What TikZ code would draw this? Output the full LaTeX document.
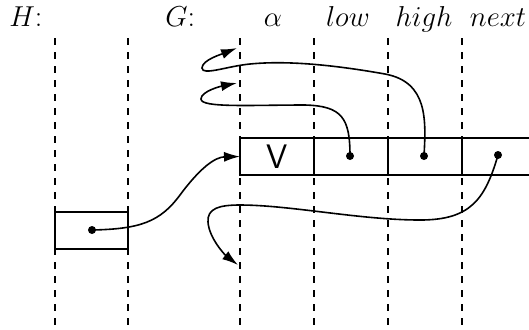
\documentclass[tikz,border=0pt]{standalone}
\usetikzlibrary{arrows.meta}
\begin{document}
\begin{tikzpicture}[x=0.5pt,y=-0.5pt,
  guide/.style={dash pattern=on 3.5pt off 3.5pt, line width=0.7pt},
  cell/.style={draw, line width=0.75pt, minimum width=37pt, minimum height=18.5pt, inner sep=0pt, outer sep=0pt},
  ptr/.style={circle, fill, inner sep=0pt, minimum size=4pt},
  link/.style={line width=0.8pt, -{Latex[length=8pt,width=5pt]}},
  lbl/.style={anchor=base, inner sep=0pt, font=\fontsize{15}{18}\selectfont}]
\useasboundingbox (0,0) rectangle (529,329);

% labels
\node[lbl, anchor=base west] (lh) at (9,26) {$H$:};
\node[lbl, anchor=base west] (lg) at (165,26) {$G$:};
\node[lbl] (la) at (273,26) {$\alpha$};
\node[lbl] (llow) at (348,26) {$low$};
\node[lbl] (lhigh) at (424,26) {$high$};
\node[lbl] (lnext) at (498,26) {$next$};

% dashed guides
\foreach \x in {55,128,240,314,388,462}
  \draw[guide] (\x,38) -- (\x,325);

% G record
\node[cell, fill=white] (ca) at (277,156.5) {\fontsize{17}{17}\selectfont\sffamily V};
\node[cell, fill=white] (cl) at (351,156.5) {};
\node[cell, fill=white] (ch) at (425,156.5) {};
\draw[line width=0.75pt] (ch.north east) -- ++(67,0);
\draw[line width=0.75pt] (ch.south east) -- ++(67,0);

% H box
\node[cell, fill=white, minimum width=36.5pt] (hbox) at (91.5,230.5) {};

% pointer dots
\node[ptr] (hd) at (92,230) {};
\node[ptr] (ld) at (350,156) {};
\node[ptr] (hid) at (424,156) {};
\node[ptr] (nd) at (498,155) {};

% arrow targets
\coordinate (t2) at (237,83);
\coordinate (t3) at (237,48);
\coordinate (t4) at (238,265);

% connectors
\draw[link] (hd.center) .. controls (140,229) and (160,222) .. (180,195)
  .. controls (200,168) and (215,157) .. (ca.west);
\draw[link] (ld.center) .. controls (350,118) and (342,106) .. (305,105)
  .. controls (250,105) and (201,108) .. (201,99)
  .. controls (201,91) and (222,86) .. (t2);
\draw[link] (hid.center) .. controls (426,120) and (428,82) .. (385,74)
  .. controls (340,66) and (290,60) .. (250,64)
  .. controls (228,66) and (202,76) .. (202,68)
  .. controls (202,60) and (222,54) .. (t3);
\draw[link] (nd.center) .. controls (485,200) and (470,220) .. (420,220)
  .. controls (360,220) and (290,205) .. (240,205)
  .. controls (220,205) and (207,208) .. (208,222)
  .. controls (209,238) and (225,255) .. (t4);
\end{tikzpicture}
\end{document}
